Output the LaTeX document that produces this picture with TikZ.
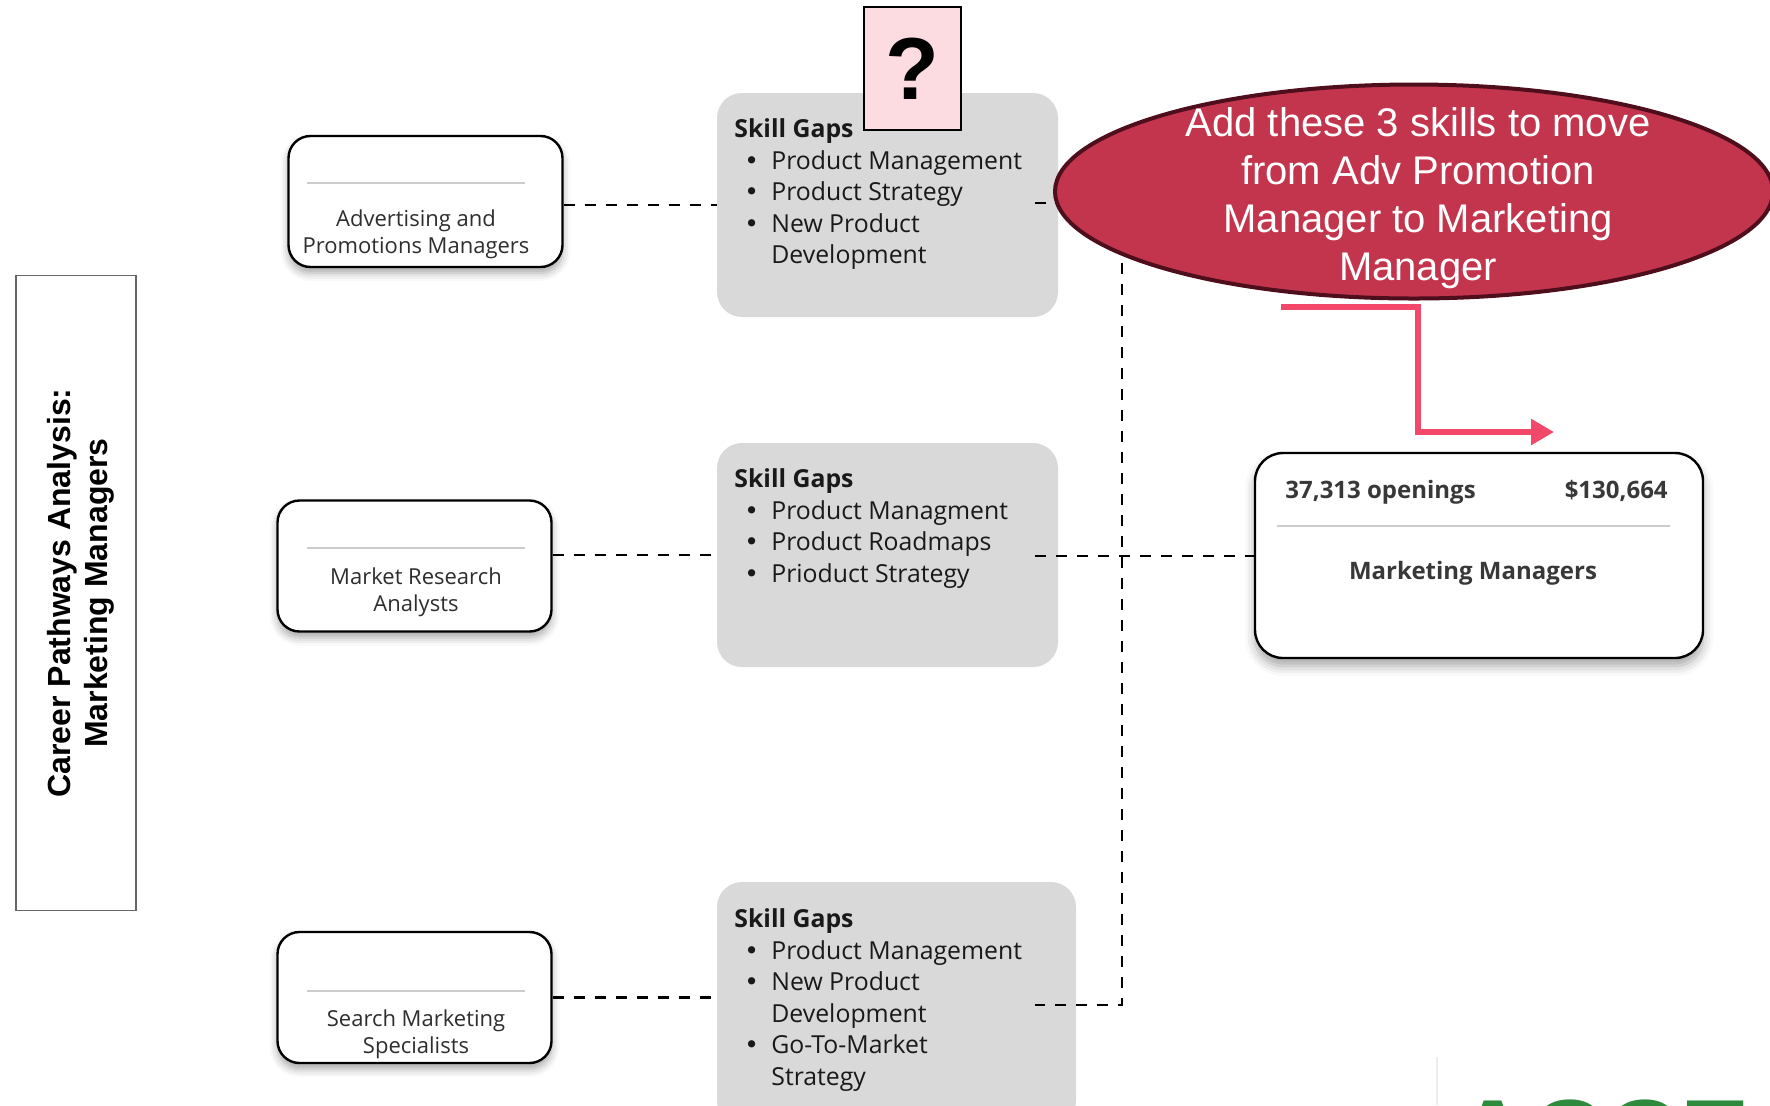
\documentclass[tikz,border=0pt]{standalone}
\usepackage{fontspec}
\setmainfont{Open Sans}
\newfontfamily\arialfont{Liberation Sans}
\newfontfamily\bulletfont{DejaVu Sans}
\usetikzlibrary{shapes.geometric,arrows.meta,calc,shadows.blur}
\definecolor{sggray}{HTML}{D9D9D9}
\definecolor{ellfill}{HTML}{C3354D}
\definecolor{elldraw}{HTML}{4E0E1C}
\definecolor{qpink}{HTML}{FCDCE1}
\definecolor{arrowred}{HTML}{F2496B}
\definecolor{txtdark}{HTML}{2E2E2E}
\definecolor{greentxt}{HTML}{2E8B3E}
\newcommand{\gapitem}{\makebox[18.5pt][l]{\hspace{5pt}{\bulletfont •}}}
\newcommand{\gapcont}{\hspace*{18.5pt}}
\begin{document}
\begin{tikzpicture}[x=0.5pt,y=-0.5pt,
  rolebox/.style={draw=black, line width=1.2pt, fill=white, rounded corners=11pt,
    minimum width=137pt, minimum height=65.5pt, inner sep=0pt,
    blur shadow={shadow xshift=0pt, shadow yshift=-3pt, shadow blur radius=4pt, shadow opacity=35}},
  roletext/.style={align=center, text=txtdark, inner sep=0pt, font=\fontsize{11}{13.7}\selectfont},
  divider/.style={draw=black!20, line width=1.2pt},
  gapbox/.style={fill=sggray, rounded corners=12.5pt, inner sep=0pt},
  gaptext/.style={anchor=north west, align=left, inner sep=0pt, text=black!90,
    font=\fontsize{12.4}{15.8}\selectfont},
  conn/.style={draw=black, line width=1.4pt, dash pattern=on 5.5pt off 5pt},
  redarrow/.style={draw=arrowred, line width=3pt, -{Triangle[length=11.5pt,width=12.5pt]}},
]
\useasboundingbox (0,0) rectangle (1770,1105);
\path[clip] (0,0) rectangle (1770,1105);

% title
\node[draw=black!60, line width=0.8pt, minimum width=60pt, minimum height=317.5pt,
  inner sep=0pt] (title) at (76,593) {};
\node[rotate=90, align=center, inner sep=0pt,
  font=\arialfont\bfseries\fontsize{16}{18.5}\selectfont] (titletxt)
  at (81,593) {Career Pathways Analysis:\\Marketing Managers};

% left role boxes
\node[rolebox] (adv) at (425.5,201.5) {};
\draw[divider] (307,183) -- (525,183);
\node[roletext] (advtxt) at (416,234) {Advertising and\\Promotions Managers};

\node[rolebox] (mra) at (414.5,566) {};
\draw[divider] (307,548) -- (525,548);
\node[roletext] (mratxt) at (416,592) {Market Research\\Analysts};

\node[rolebox] (sms) at (414.5,997.5) {};
\draw[divider] (307,991) -- (525,991);
\node[roletext] (smstxt) at (416,1034) {Search Marketing\\Specialists};

% skill gap boxes
\node[gapbox, minimum width=170.5pt, minimum height=112pt] (sg1) at (887.5,205) {};
\node[gaptext] (sg1txt) at (734,118.3) {\textbf{Skill Gaps}\\
\gapitem Product Management\\
\gapitem Product Strategy\\
\gapitem New Product\\
\gapcont Development};

\node[gapbox, minimum width=170.5pt, minimum height=112pt] (sg2) at (887.5,555) {};
\node[gaptext] (sg2txt) at (734,468.3) {\textbf{Skill Gaps}\\
\gapitem Product Managment\\
\gapitem Product Roadmaps\\
\gapitem Prioduct Strategy};

\node[gapbox, minimum width=179.5pt, minimum height=122pt] (sg3) at (896.5,1004) {};
\node[gaptext] (sg3txt) at (734,908.3) {\textbf{Skill Gaps}\\
\gapitem Product Management\\
\gapitem New Product\\
\gapcont Development\\
\gapitem Go-To-Market\\
\gapcont Strategy};

% connectors left
\draw[conn] (adv.east |- sg1.west) -- (sg1.west);
\draw[conn] (mra.east |- sg2.west) -- (sg2.west);
\draw[conn] (sms.east) -- (sms.east -| sg3.west);

% connectors right
\coordinate (trunk) at (1122,0);
\coordinate (c1) at (1035,203);
\coordinate (c2) at (1035,556);
\coordinate (c3) at (1035,1005);

% target box
\node[draw=black, line width=1.2pt, fill=white, rounded corners=14pt, minimum width=224pt,
  minimum height=102.5pt, inner sep=0pt,
  blur shadow={shadow xshift=0pt, shadow yshift=-4pt, shadow blur radius=5pt, shadow opacity=35}]
  (mm) at (1479,555.5) {};
\draw[conn] (c1) -- (c1 -| trunk) -- (c3 -| trunk) -- (c3);
\draw[conn] (c2) -- (c2 -| mm.west);
\node[anchor=base west, inner sep=0pt, text=black!78, font=\bfseries\fontsize{12}{14}\selectfont] (open) at (1285,498) {37,313 openings};
\node[anchor=base east, inner sep=0pt, text=black!78, font=\bfseries\fontsize{12}{14}\selectfont] (sal) at (1668,498) {\$130,664};
\draw[divider] (1277,526) -- (1670,526);
\node[anchor=base, inner sep=0pt, text=black!78, font=\bfseries\fontsize{12}{14}\selectfont] (mmtxt) at (1473,579) {Marketing Managers};

% callout ellipse
\node[ellipse, draw=elldraw, line width=2pt, fill=ellfill, minimum width=359pt,
  minimum height=107pt, inner sep=0pt] (note) at (1414,191.5) {};
\node[text=white, align=center, inner sep=0pt, font=\arialfont\fontsize{20}{24}\selectfont]
  (notetxt) at (1418,198) {Add these 3 skills to move\\from Adv Promotion\\Manager to Marketing\\Manager};

% question box
\node[draw=black, line width=1pt, fill=qpink, minimum width=48.5pt, minimum height=61.5pt,
  inner sep=0pt, font=\arialfont\bfseries\fontsize{44}{44}\selectfont] (qbox) at (912.5,68.5) {?};

% red arrow
\coordinate (arrS) at (1281,307);
\coordinate (arrM) at (1418,432);
\coordinate (arrE) at (1554,432);
\draw[redarrow] (arrS) -| (arrM) -- (arrE);

% cut-off green text and faint edge
\draw[black!7, line width=0.6pt] (1437,1057) -- (1437,1105);
\node[anchor=north west, inner sep=0pt, text=greentxt,
  font=\arialfont\bfseries\fontsize{52}{52}\selectfont] (logo) at (1455,1099) {ACCE};
\end{tikzpicture}
\end{document}
